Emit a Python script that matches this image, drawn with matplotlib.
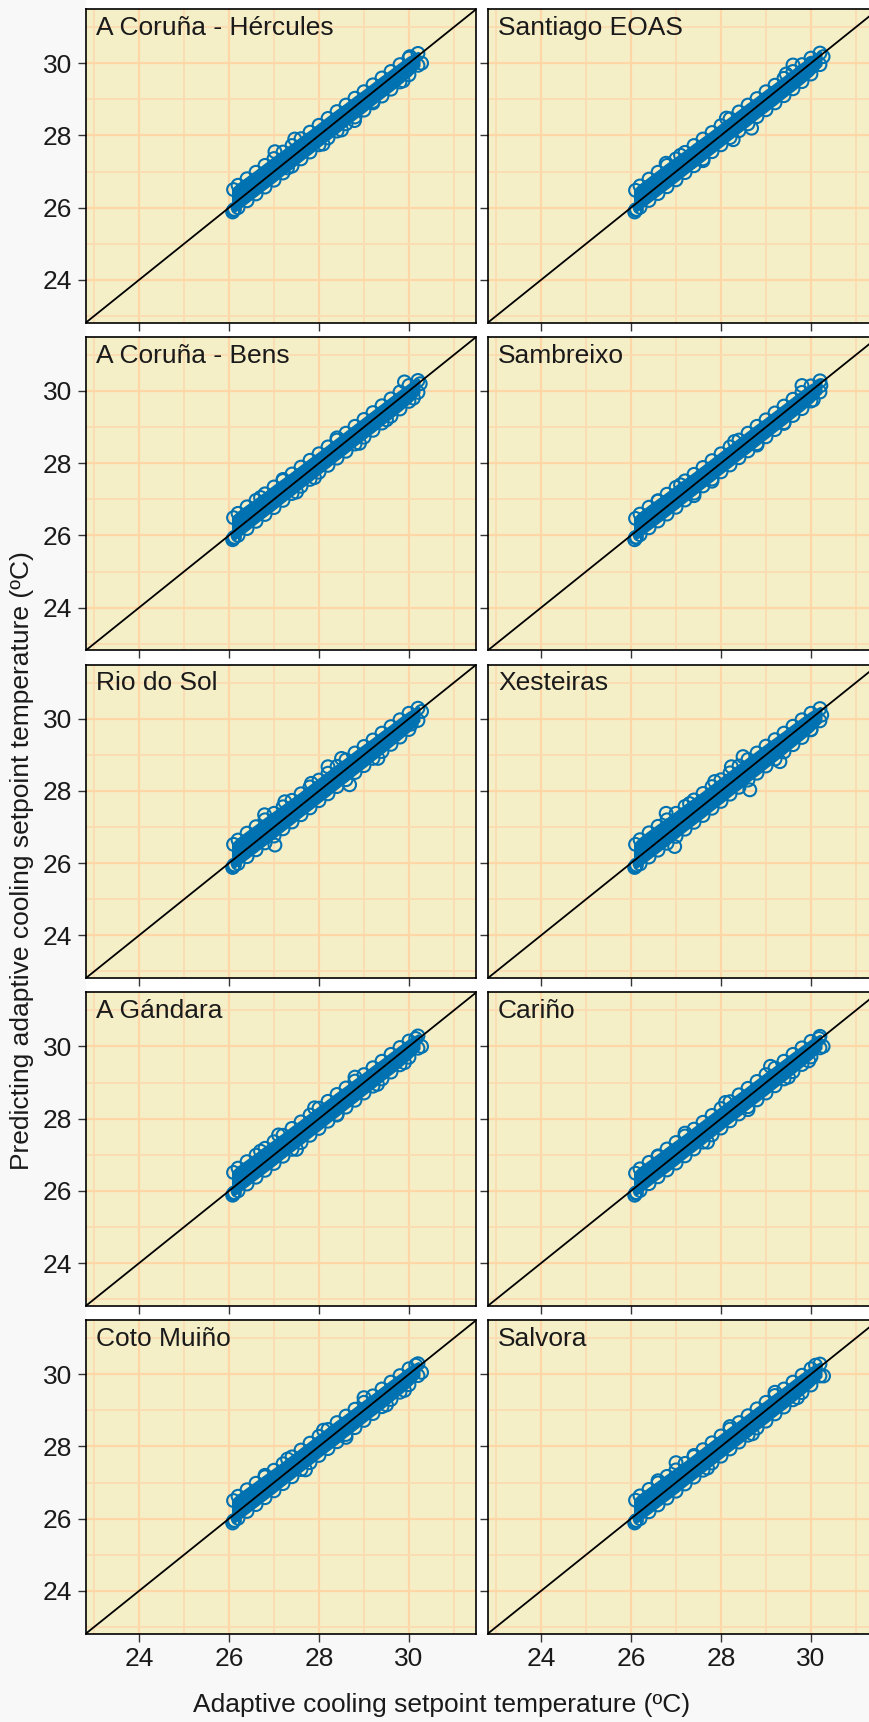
import numpy as np
import matplotlib
matplotlib.use("Agg")
import matplotlib.pyplot as plt
from matplotlib.ticker import MultipleLocator
from matplotlib.patches import Rectangle

plt.rcParams['font.family'] = ['Liberation Sans', 'DejaVu Sans']

stations = ['A Coruña - Hércules', 'Santiago EOAS',
            'A Coruña - Bens', 'Sambreixo',
            'Rio do Sol', 'Xesteiras',
            'A Gándara', 'Cariño',
            'Coto Muiño', 'Salvora']

# adaptive (observed) setpoint, shared by all stations
x_band = [26.1, 26.2, 26.4, 26.6, 26.8, 27.0, 27.2, 27.4, 27.6, 27.8, 28.0,
          28.2, 28.4, 28.6, 28.8, 29.0, 29.2, 29.4, 29.6, 29.8, 30.0, 30.2]

# residual envelope (predicted - observed) of the dense cloud, per station
hi_off = {
    'A Coruña - Hércules': [0.40, 0.42, 0.40, 0.38, 0.37, 0.36, 0.34, 0.32, 0.31, 0.29, 0.28,
                            0.27, 0.26, 0.24, 0.23, 0.21, 0.20, 0.19, 0.17, 0.16, 0.14, 0.07],
    'Santiago EOAS': [0.38, 0.40, 0.39, 0.38, 0.37, 0.35, 0.33, 0.32, 0.30, 0.28, 0.27,
                      0.26, 0.25, 0.24, 0.22, 0.21, 0.19, 0.18, 0.17, 0.16, 0.14, 0.08],
    'A Coruña - Bens': [0.39, 0.41, 0.39, 0.37, 0.35, 0.34, 0.32, 0.30, 0.29, 0.28, 0.26,
                        0.25, 0.24, 0.23, 0.22, 0.21, 0.20, 0.19, 0.18, 0.17, 0.15, 0.09],
    'Sambreixo': [0.37, 0.39, 0.38, 0.36, 0.34, 0.33, 0.31, 0.29, 0.28, 0.27, 0.26,
                  0.25, 0.24, 0.23, 0.22, 0.20, 0.19, 0.18, 0.17, 0.16, 0.14, 0.08],
    'Rio do Sol': [0.42, 0.44, 0.43, 0.41, 0.40, 0.38, 0.36, 0.34, 0.32, 0.31, 0.30,
                   0.29, 0.28, 0.26, 0.25, 0.23, 0.21, 0.20, 0.18, 0.17, 0.15, 0.09],
    'Xesteiras': [0.42, 0.45, 0.44, 0.42, 0.40, 0.38, 0.37, 0.35, 0.33, 0.32, 0.31,
                  0.30, 0.29, 0.27, 0.25, 0.24, 0.22, 0.20, 0.19, 0.17, 0.15, 0.08],
    'A Gándara': [0.41, 0.43, 0.41, 0.39, 0.38, 0.36, 0.34, 0.33, 0.31, 0.30, 0.29,
                  0.28, 0.27, 0.25, 0.24, 0.22, 0.21, 0.19, 0.18, 0.17, 0.15, 0.09],
    'Cariño': [0.39, 0.41, 0.39, 0.37, 0.36, 0.34, 0.32, 0.31, 0.30, 0.29, 0.28,
               0.27, 0.26, 0.24, 0.23, 0.22, 0.20, 0.19, 0.18, 0.16, 0.14, 0.08],
    'Coto Muiño': [0.40, 0.42, 0.40, 0.38, 0.36, 0.34, 0.32, 0.31, 0.30, 0.29, 0.28,
                   0.27, 0.26, 0.24, 0.23, 0.22, 0.20, 0.19, 0.18, 0.16, 0.15, 0.09],
    'Salvora': [0.41, 0.43, 0.41, 0.39, 0.37, 0.35, 0.33, 0.32, 0.31, 0.30, 0.29,
                0.28, 0.26, 0.25, 0.24, 0.22, 0.21, 0.19, 0.18, 0.17, 0.15, 0.08],
}
lo_off = {
    'A Coruña - Hércules': [-0.18, -0.20, -0.21, -0.22, -0.23, -0.24, -0.24, -0.25, -0.25, -0.26, -0.26,
                            -0.27, -0.28, -0.28, -0.29, -0.30, -0.30, -0.31, -0.32, -0.32, -0.32, -0.26],
    'Santiago EOAS': [-0.17, -0.19, -0.20, -0.21, -0.22, -0.23, -0.23, -0.24, -0.25, -0.25, -0.26,
                      -0.26, -0.27, -0.28, -0.28, -0.29, -0.30, -0.30, -0.31, -0.31, -0.30, -0.24],
    'A Coruña - Bens': [-0.18, -0.20, -0.21, -0.21, -0.22, -0.23, -0.23, -0.24, -0.24, -0.25, -0.25,
                        -0.26, -0.26, -0.27, -0.27, -0.28, -0.29, -0.29, -0.30, -0.30, -0.29, -0.24],
    'Sambreixo': [-0.16, -0.18, -0.19, -0.20, -0.21, -0.22, -0.22, -0.23, -0.23, -0.24, -0.24,
                  -0.25, -0.25, -0.26, -0.26, -0.27, -0.27, -0.28, -0.28, -0.29, -0.28, -0.23],
    'Rio do Sol': [-0.18, -0.21, -0.22, -0.23, -0.24, -0.25, -0.25, -0.26, -0.26, -0.27, -0.27,
                   -0.28, -0.28, -0.29, -0.29, -0.30, -0.30, -0.31, -0.31, -0.31, -0.30, -0.25],
    'Xesteiras': [-0.19, -0.22, -0.23, -0.24, -0.25, -0.26, -0.26, -0.27, -0.28, -0.28, -0.29,
                  -0.29, -0.30, -0.30, -0.31, -0.31, -0.32, -0.32, -0.32, -0.32, -0.31, -0.26],
    'A Gándara': [-0.18, -0.20, -0.21, -0.22, -0.23, -0.24, -0.24, -0.25, -0.26, -0.26, -0.27,
                  -0.27, -0.28, -0.28, -0.29, -0.29, -0.30, -0.30, -0.31, -0.31, -0.30, -0.25],
    'Cariño': [-0.17, -0.19, -0.20, -0.21, -0.22, -0.23, -0.23, -0.24, -0.25, -0.25, -0.26,
               -0.26, -0.27, -0.27, -0.28, -0.29, -0.29, -0.30, -0.30, -0.30, -0.29, -0.24],
    'Coto Muiño': [-0.17, -0.19, -0.20, -0.21, -0.22, -0.23, -0.23, -0.24, -0.24, -0.25, -0.25,
                   -0.26, -0.27, -0.27, -0.28, -0.28, -0.29, -0.30, -0.30, -0.30, -0.29, -0.24],
    'Salvora': [-0.18, -0.20, -0.21, -0.22, -0.23, -0.24, -0.24, -0.25, -0.26, -0.26, -0.27,
                -0.27, -0.28, -0.29, -0.29, -0.30, -0.30, -0.31, -0.31, -0.31, -0.30, -0.25],
}

# scattered points off the dense cloud (observed, predicted)
out_x = {
    'A Coruña - Hércules': [26.08, 26.12, 27.02, 27.46, 28.09, 28.79, 29.20, 29.87, 30.02, 30.28, 27.30, 28.50],
    'Santiago EOAS': [26.08, 26.12, 26.78, 27.10, 28.12, 28.27, 28.68, 29.45, 29.60, 30.01, 30.27, 27.60],
    'A Coruña - Bens': [26.08, 26.12, 26.70, 27.20, 27.90, 28.40, 28.90, 29.50, 29.90, 30.10, 30.25, 27.50],
    'Sambreixo': [26.08, 26.12, 26.60, 27.10, 27.80, 28.30, 28.80, 29.40, 29.80, 30.05, 30.22, 27.40],
    'Rio do Sol': [26.08, 26.12, 26.79, 27.02, 27.24, 27.83, 28.20, 28.50, 28.68, 29.31, 30.28, 30.05],
    'Xesteiras': [26.08, 26.12, 26.78, 26.97, 27.30, 27.86, 28.23, 28.49, 28.64, 29.31, 30.24, 30.00],
    'A Gándara': [26.08, 26.12, 26.70, 27.10, 27.50, 27.90, 28.40, 28.80, 29.30, 29.90, 30.15, 30.28],
    'Cariño': [26.08, 26.12, 26.60, 27.20, 27.70, 28.10, 28.60, 29.10, 29.50, 29.95, 30.18, 30.27],
    'Coto Muiño': [26.08, 26.12, 26.80, 27.30, 27.70, 28.10, 28.60, 29.00, 29.50, 29.90, 30.15, 30.28],
    'Salvora': [26.08, 26.12, 26.60, 27.00, 27.40, 27.70, 28.20, 28.70, 29.20, 29.70, 30.10, 30.28],
}
out_y = {
    'A Coruña - Hércules': [25.88, 25.95, 27.55, 27.90, 27.76, 28.41, 28.94, 29.51, 30.18, 30.00, 27.10, 28.15],
    'Santiago EOAS': [25.88, 25.95, 27.23, 27.45, 28.48, 27.88, 28.20, 29.70, 29.95, 30.00, 30.18, 27.30],
    'A Coruña - Bens': [25.88, 25.95, 27.05, 27.55, 27.60, 28.70, 28.55, 29.20, 30.25, 29.80, 30.20, 27.20],
    'Sambreixo': [25.88, 25.95, 26.95, 27.40, 27.50, 28.60, 28.50, 29.10, 30.15, 29.75, 30.15, 27.10],
    'Rio do Sol': [25.88, 25.95, 27.34, 26.50, 27.70, 28.21, 28.67, 28.90, 28.17, 28.90, 30.20, 29.85],
    'Xesteiras': [25.88, 25.95, 27.38, 26.46, 27.65, 28.26, 28.67, 28.95, 28.03, 28.81, 30.10, 29.70],
    'A Gándara': [25.88, 25.95, 27.10, 27.55, 27.15, 28.30, 28.10, 29.15, 28.95, 29.55, 30.22, 30.00],
    'Cariño': [25.88, 25.95, 26.95, 27.60, 27.35, 28.45, 28.25, 29.45, 29.15, 29.60, 30.22, 30.00],
    'Coto Muiño': [25.88, 25.95, 27.20, 27.65, 27.35, 28.45, 28.25, 29.35, 29.15, 29.55, 30.25, 30.05],
    'Salvora': [25.88, 25.95, 27.05, 27.55, 27.75, 27.40, 28.55, 28.35, 29.50, 29.35, 30.25, 29.95],
}

ticks = [24, 26, 28, 30]
lims = (22.82, 31.49)

W, H = 870, 1722
fig = plt.figure(figsize=(W / 100, H / 100), dpi=100)
fig.patch.set_facecolor('#f8f8f8')
fig.patches.append(Rectangle((86 / W, 1 - 1634 / H), 1, 1634 / H, transform=fig.transFigure,
                             facecolor='white', edgecolor='none', zorder=-10))

blue = '#0072b2'
left0, pw, gapx = 86, 390, 12
top0, ph, pitch = 9, 313.5, 327.75
fs = 19
msize, mlw = 85, 1.5

for i, name in enumerate(stations):
    r, c = divmod(i, 2)
    l = left0 + c * (pw + gapx)
    t = top0 + r * pitch
    ax = fig.add_axes([l / W, 1 - (t + ph) / H, pw / W, ph / H])
    ax.set_facecolor('#f5efc8')
    ax.set_xlim(lims)
    ax.set_ylim(lims[0], 31.5)
    ax.xaxis.set_major_locator(plt.FixedLocator(ticks))
    ax.yaxis.set_major_locator(plt.FixedLocator(ticks))
    ax.xaxis.set_minor_locator(MultipleLocator(1))
    ax.yaxis.set_minor_locator(MultipleLocator(1))
    ax.grid(which='major', color='#ffd6a6', lw=1.6, zorder=0)
    ax.grid(which='minor', color='#fcdcb2', lw=1.3, zorder=0)
    ax.set_axisbelow(True)
    ax.tick_params(which='minor', length=0)
    ax.tick_params(which='major', length=5.5, width=1, color='#333333', pad=4.5,
                   labelsize=fs, labelcolor='#1a1a1a')
    if c == 1:
        ax.tick_params(axis='y', labelleft=False)
    if r < 4:
        ax.tick_params(axis='x', labelbottom=False)
    for sp in ax.spines.values():
        sp.set_linewidth(1.2)
        sp.set_color('black')

    xb = np.array(x_band)
    lo = xb + np.array(lo_off[name])
    hi = xb + np.array(hi_off[name])
    ax.fill_between(xb, lo, hi, facecolor=blue, edgecolor=blue, lw=3, zorder=2)
    ax.scatter(xb, lo, s=msize, facecolors='none', edgecolors=blue, linewidths=mlw, zorder=3)
    ax.scatter(xb, hi, s=msize, facecolors='none', edgecolors=blue, linewidths=mlw, zorder=3)
    ax.scatter(out_x[name], out_y[name], s=msize, facecolors='none', edgecolors=blue,
               linewidths=mlw, zorder=3)
    ax.axline((24, 24), slope=1, color='black', lw=1.3, zorder=4)

    ax.text(10 / pw, 1 - 7 / ph, name, transform=ax.transAxes, ha='left', va='top',
            fontsize=fs, color='#1a1a1a')

fig.text(442 / W, 1 - 1705 / H, 'Adaptive cooling setpoint temperature (ºC)',
         ha='center', va='center', fontsize=fs, color='#1a1a1a')
fig.text(22 / W, 1 - 861 / H, 'Predicting adaptive cooling setpoint temperature (ºC)',
         ha='center', va='center', rotation=90, fontsize=fs, color='#1a1a1a')

fig.savefig('out.png', dpi=100, facecolor=fig.get_facecolor())
